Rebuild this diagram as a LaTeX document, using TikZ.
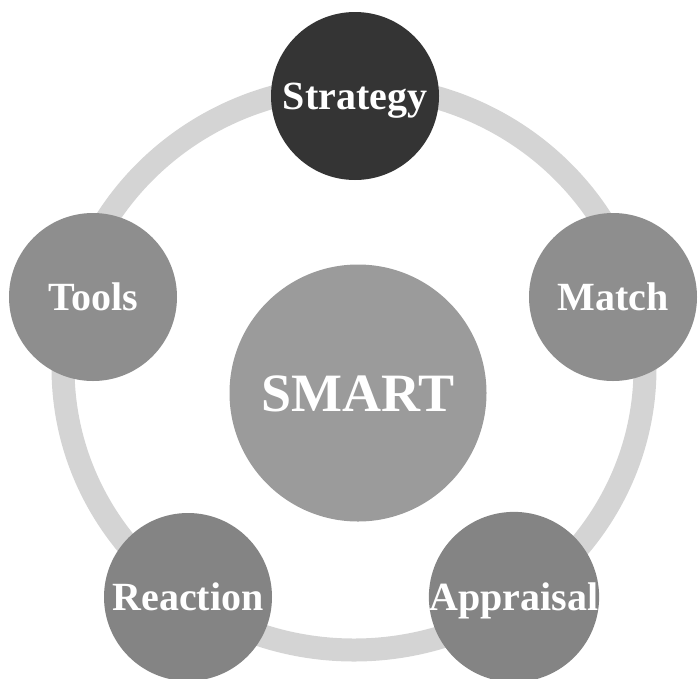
\documentclass[tikz,border=0pt]{standalone}
\usepackage{fontspec}
\setmainfont{Liberation Serif}

\definecolor{ringgray}{HTML}{D4D4D4}
\definecolor{stagegray}{HTML}{8E8E8E}
\definecolor{lowgray}{HTML}{848484}
\definecolor{coregray}{HTML}{9B9B9B}
\definecolor{topgray}{HTML}{343434}

\tikzset{
  stage/.style={circle, minimum size=168pt, inner sep=0pt, fill=stagegray,
    text=white, font=\fontsize{40}{40}\selectfont\bfseries,
    text height=26pt, text depth=0pt},
  core/.style={circle, minimum size=257pt, inner sep=0pt, fill=coregray,
    text=white, font=\fontsize{54}{54}\selectfont\bfseries,
    text height=36pt, text depth=0pt},
  ring/.style={draw=ringgray, line width=23pt}
}

\begin{document}
\begin{tikzpicture}[x=1pt,y=-1pt]
\useasboundingbox (0,0) rectangle (698,678);

% the loop that joins the five stages
\coordinate (centre) at (354,368);
\draw[ring] (centre) ellipse [x radius=291pt, y radius=282pt];

\node[core] (smart) at (358,393) {SMART};

\node[stage, fill=topgray] (strategy) at (355,96) {Strategy};
\node[stage] (match) at (613,297) {Match};
\node[stage, fill=lowgray] (appraisal) at (514,597) {Appraisal};
\node[stage, fill=lowgray] (reaction) at (188,597) {Reaction};
\node[stage] (tools) at (93,297) {Tools};
\end{tikzpicture}
\end{document}
